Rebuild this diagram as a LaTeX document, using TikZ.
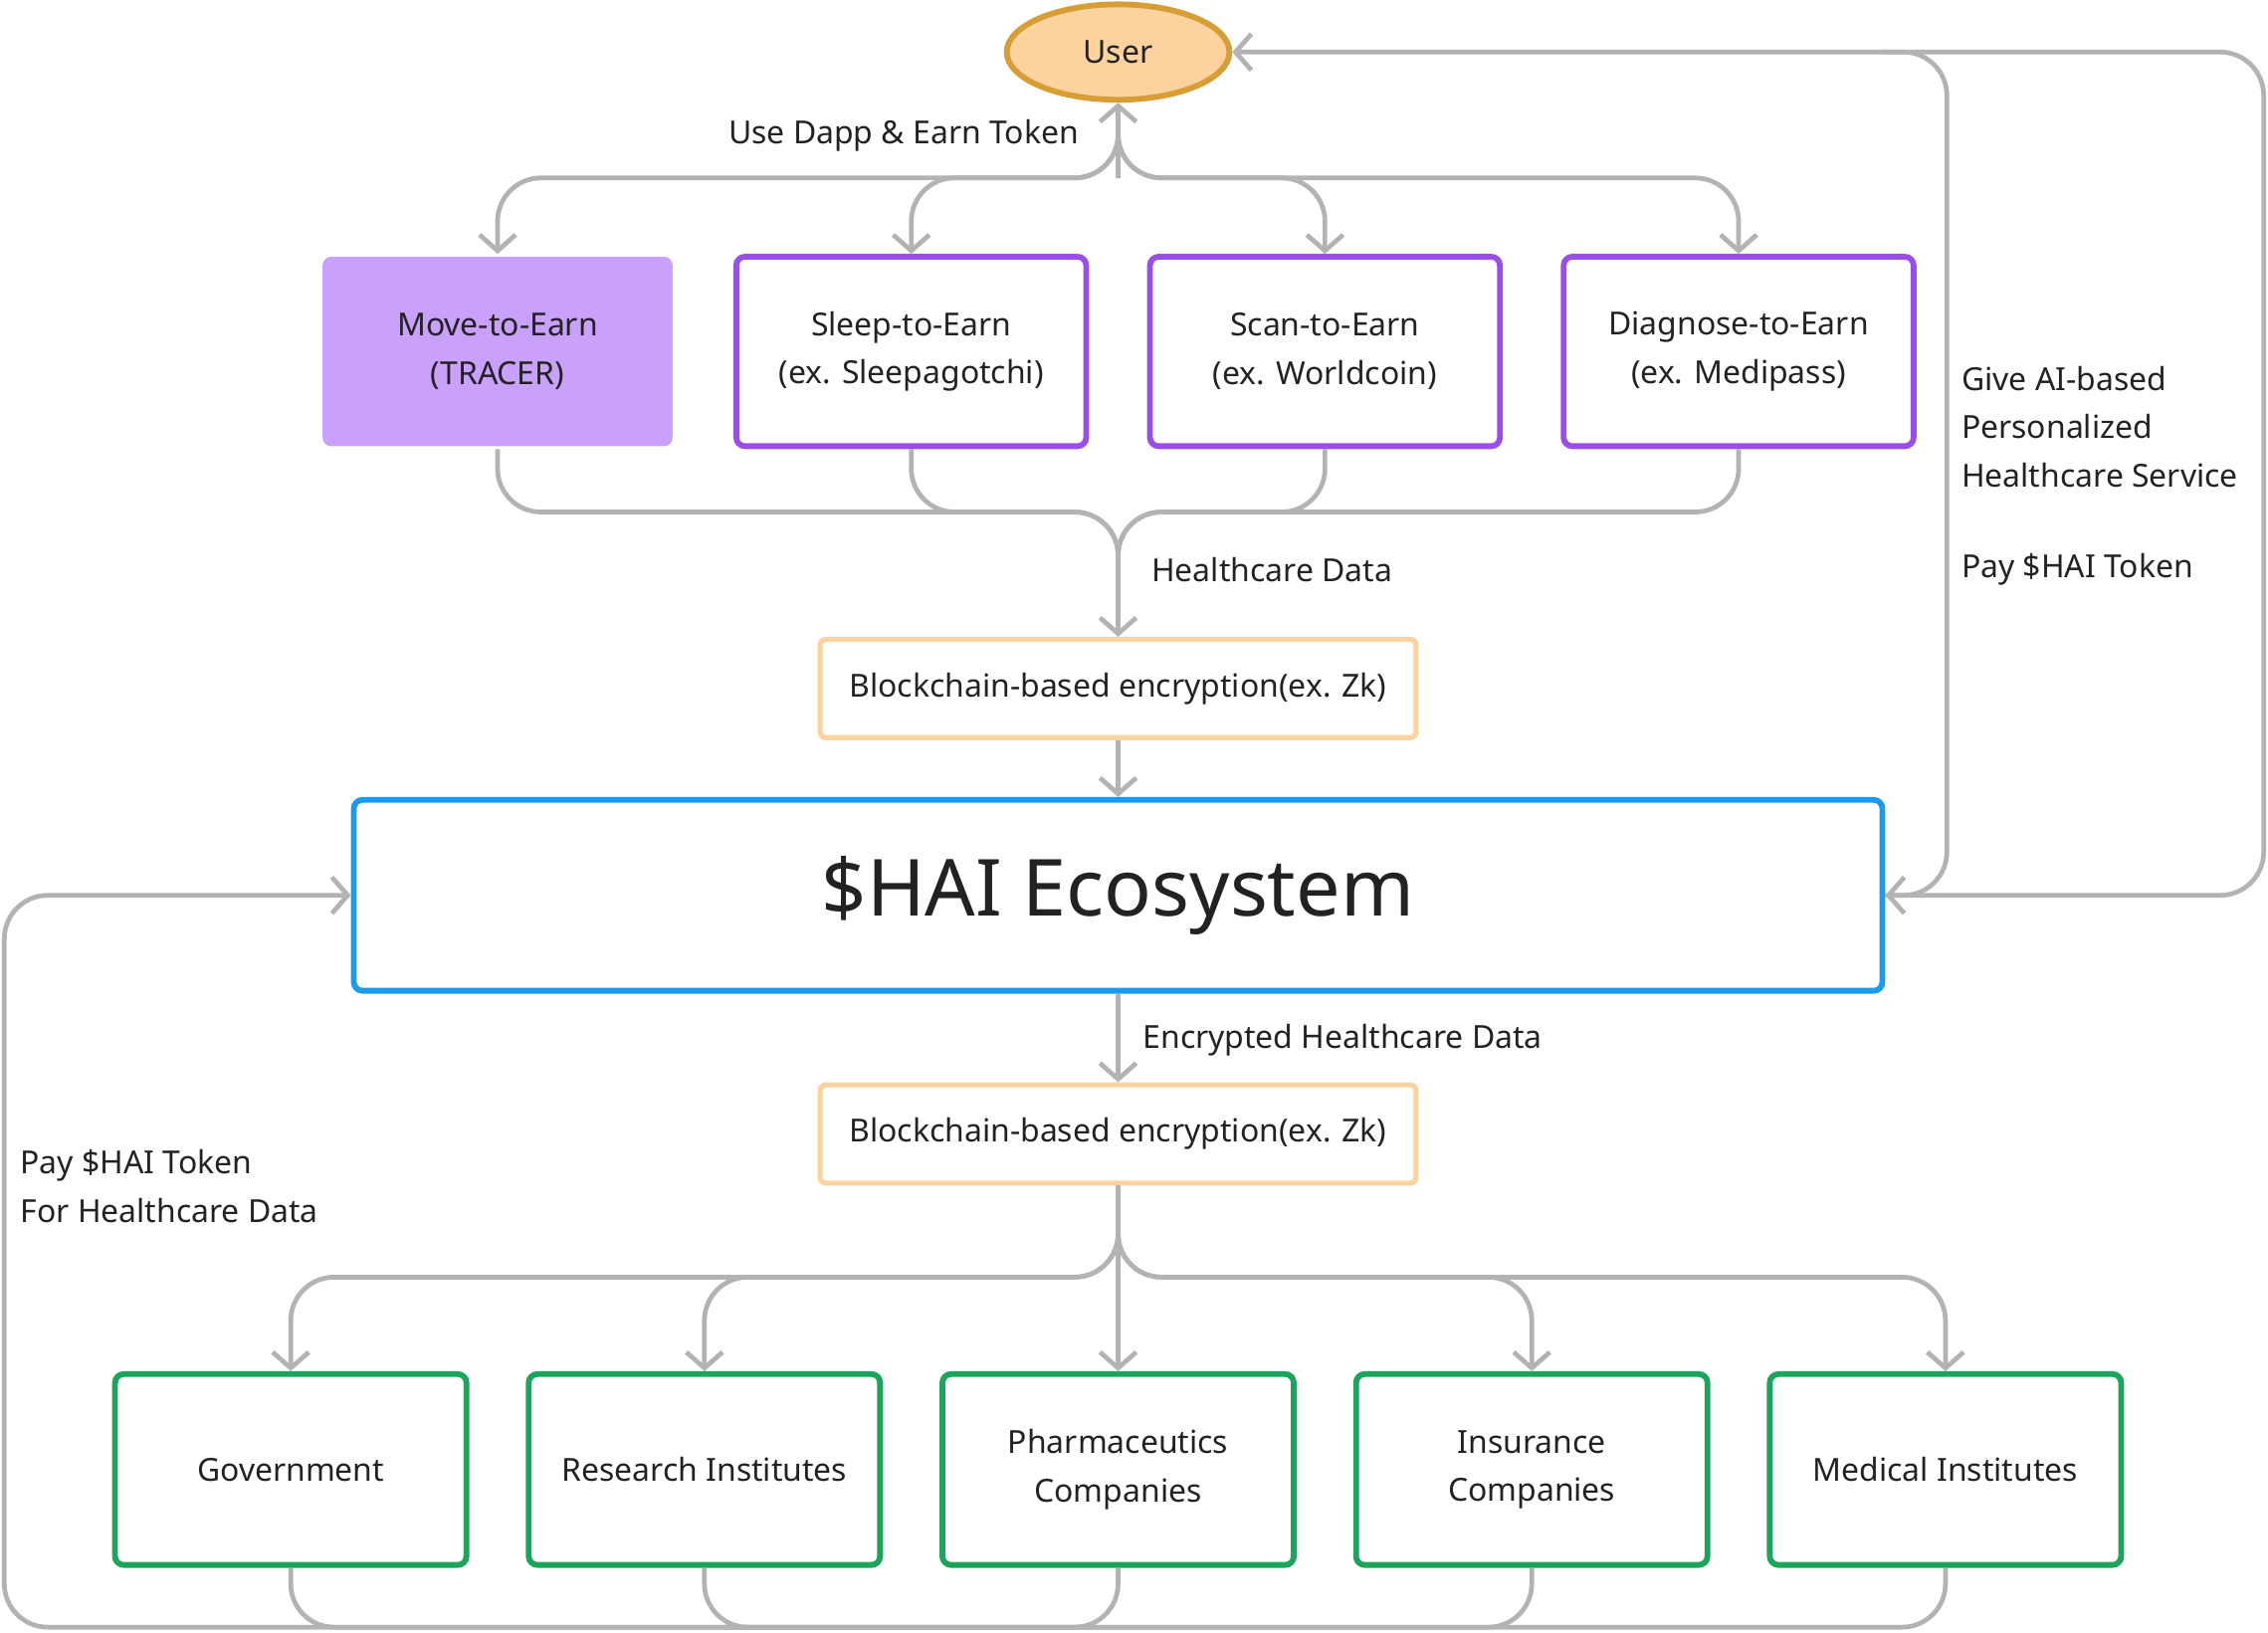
\documentclass[tikz,border=0pt]{standalone}
\usepackage{fontspec}
\setmainfont{Noto Sans}
\usetikzlibrary{arrows.meta,shapes.geometric}
\definecolor{gr}{HTML}{B3B3B3}
\definecolor{pu}{HTML}{9B4DEA}
\definecolor{pf}{HTML}{C9A0FB}
\definecolor{org}{HTML}{FCD29E}
\definecolor{ob}{HTML}{D69E35}
\definecolor{bl}{HTML}{1A9BF0}
\definecolor{gn}{HTML}{1AA55A}
\definecolor{tx}{HTML}{222222}
\begin{document}
\begin{tikzpicture}[x=0.02cm,y=-0.02cm,
 every node/.style={text=tx,font=\fontsize{12.5}{19}\selectfont},
 box/.style={draw=pu,line width=0.08cm,rounded corners=0.12cm,minimum width=4.84cm,minimum height=2.62cm,align=center},
 enc/.style={draw=org,line width=0.07cm,rounded corners=0.08cm,minimum width=8.24cm,minimum height=1.36cm},
 gbox/.style={draw=gn,line width=0.08cm,rounded corners=0.12cm,minimum width=4.86cm,minimum height=2.64cm,align=center},
 con/.style={draw=gr,line width=0.065cm,rounded corners=0.6cm},
 arr/.style={con,-{Straight Barb[length=0.22cm,width=0.5cm,line width=0.065cm]}},
 lab/.style={anchor=west,align=left}]
\useasboundingbox (0,0) rectangle (1568,1129);
% nodes
\node[ellipse,draw=ob,fill=org,line width=0.08cm,minimum width=3.08cm,minimum height=1.32cm] (user) at (773,36) {User};
\node[box,draw=none,fill=pf] (m) at (344,243) {Move-to-Earn\\\textbf{(TRACER)}};
\node[box] (s) at (630,243) {Sleep-to-Earn\\(ex. Sleepagotchi)};
\node[box] (sc) at (916,243) {Scan-to-Earn\\(ex. Worldcoin)};
\node[box] (d) at (1202,243) {Diagnose-to-Earn\\(ex. Medipass)};
\node[enc] (e1) at (773,476) {Blockchain-based encryption(ex. Zk)};
\node[draw=bl,line width=0.08cm,rounded corners=0.12cm,minimum width=21.14cm,minimum height=2.64cm,font=\fontsize{31}{36}\selectfont] (hai) at (773,619) {\$HAI Ecosystem};
\node[enc] (e2) at (773,784) {Blockchain-based encryption(ex. Zk)};
\node[gbox] (g1) at (201,1016) {Government};
\node[gbox] (g2) at (487,1016) {Research Institutes};
\node[gbox] (g3) at (773,1016) {Pharmaceutics\\Companies};
\node[gbox] (g4) at (1059,1016) {Insurance\\Companies};
\node[gbox] (g5) at (1345,1016) {Medical Institutes};
% labels
\node[anchor=east] (l1) at (752,94) {Use Dapp \& Earn Token};
\node[lab] (l2) at (790,394) {Healthcare Data};
\node[lab] (l3) at (784,719) {Encrypted Healthcare Data};
\node[lab] (l4) at (8,820) {Pay \$HAI Token\\For Healthcare Data};
\node[lab] (l5) at (1350,295) {Give AI-based\\Personalized\\Healthcare Service};
\node[lab] (l6) at (1350,394) {Pay \$HAI Token};
% top tree
\foreach \n/\x in {m/344,s/630,sc/916,d/1202}{
  \draw[arr] (user.south) ++(0,40) -- (773,123) -- (\x,123) -- (\n.north);
  \draw[con] (\n.south) -- (\x,354) -- (773,354) -- (773,400);
}
\draw[arr] (773,123) -- (user.south);
\draw[arr] (773,380) -- (e1.north);
\draw[arr] (e1.south) -- (hai.north);
\draw[arr] (hai.south) -- (e2.north);
\foreach \n/\x in {g1/201,g2/487,g3/773,g4/1059,g5/1345}{
  \draw[arr] (e2.south) -- (773,883) -- (\x,883) -- (\n.north);
  \draw[con] (\n.south) -- (\x,1125) -- (500,1125);
}
\draw[arr] (500,1125) -- (3,1125) -- (3,619) -- (hai.west);
\draw[arr] (hai.east) -- (1565,619) -- (1565,36) -- (user.east);
\draw[arr] (1300,36) -- (1346,36) -- (1346,619) -- (hai.east);
\end{tikzpicture}
\end{document}
